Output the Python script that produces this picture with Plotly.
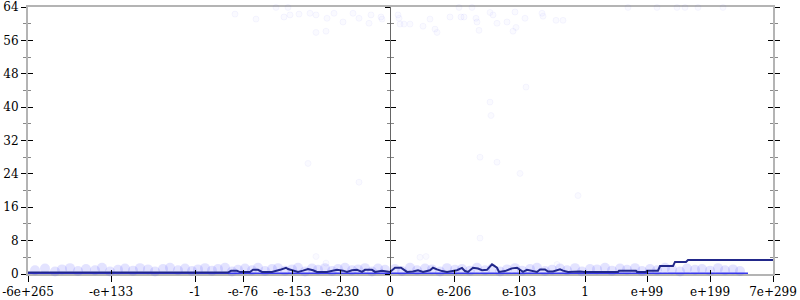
import plotly.graph_objects as go

# x positions are in "ordered float" units (0 .. 745), y is the measured value
tick_pos = [0, 83, 167, 215, 264, 312, 362, 426, 491, 557, 619, 682, 745]
tick_text = ["-6e+265", "-e+133", "-1", "-e-76", "-e-153", "-e-230", "0",
             "e-206", "e-103", "1", "e+99", "e+199", "7e+299"]

# summary line
line_x = [0, 200, 203, 209, 212, 222, 225, 230, 234, 244, 252, 258, 260, 265, 270, 275,
          280, 285, 289, 299, 309, 315, 319, 324, 329, 334, 337, 344, 347, 354, 359, 362,
          367, 373, 379, 385, 390, 395, 402, 405, 409, 414, 419, 424, 429, 434, 437, 440,
          445, 450, 454, 459, 464, 469, 471, 477, 484, 489, 492, 495, 499, 504, 509, 512,
          517, 520, 525, 532, 535, 540, 545, 552, 557, 572, 590, 591, 608, 609, 618, 619,
          630, 632, 645, 647, 658, 660, 745]
line_y = [0.35, 0.35, 0.75, 0.75, 0.45, 0.45, 1.0, 1.0, 0.5, 0.5, 1.0, 1.5, 1.2, 0.8, 0.5, 0.8,
          1.2, 0.9, 0.5, 0.5, 1.0, 0.8, 0.5, 0.9, 1.0, 0.5, 1.0, 1.0, 0.5, 0.8, 0.5, 0.5,
          1.5, 1.5, 0.5, 0.6, 0.9, 0.5, 0.9, 1.5, 1.1, 0.7, 0.5, 0.7, 0.9, 1.45, 0.7, 0.5,
          1.5, 1.3, 0.9, 1.0, 2.3, 1.5, 0.5, 0.7, 1.35, 1.5, 1.0, 0.5, 1.0, 0.8, 0.5, 1.1,
          1.1, 0.6, 0.6, 1.1, 0.8, 0.5, 0.6, 0.6, 0.5, 0.5, 0.5, 0.8, 0.8, 0.5, 0.5, 0.8,
          0.8, 1.9, 1.9, 2.9, 2.9, 3.35, 3.35]

# scattered individual samples (outliers)
pts_x = [207, 228, 248, 256, 260, 262, 271, 282, 288, 299, 306, 315, 325, 331, 341, 343, 353,
         370, 371, 354, 372, 376, 382, 395, 402, 407, 409, 422, 431, 433, 436, 444, 448, 449,
         462, 465, 469, 479, 485, 487, 488, 497, 498, 514, 515, 528, 535,
         600, 629, 649, 657, 670, 695, 280, 331, 288, 298, 392, 398, 529, 452, 462, 463, 452,
         469, 492, 550, 451, 288, 298]
pts_y = [62.3, 61.1, 63.9, 61.6, 63.9, 62.1, 62.3, 62.5, 62.1, 61.3, 62.5, 60.4, 62.5, 61.3,
         60.1, 62.1, 61.6, 62.1, 61.3, 61.1, 59.9, 59.9, 59.9, 59.4, 61.1, 58.7, 57.9, 61.6,
         63.9, 61.6, 61.6, 63.9, 61.3, 60.4, 62.7, 62.1, 60.1, 60.4, 58.2, 62.8, 59.1, 61.3,
         44.8, 62.5, 61.8, 60.8, 60.8,
         63.9, 63.9, 63.9, 63.9, 63.9, 63.9, 26.5, 22.0, 4.2, 2.6, 4.0, 4.2, 2.3, 8.6, 41.2,
         38.0, 28.0, 26.8, 24.1, 18.8, 58.4, 57.9, 58.2]

# dense low band of samples
band_x = [7, 17, 27, 34, 42, 50, 58, 67, 74, 82, 90, 97, 105, 112, 120, 127, 135, 142, 150,
          157, 164, 170, 177, 184, 190, 197, 204, 210, 217, 224, 230, 237, 244, 250, 257, 264,
          270, 277, 284, 290, 297, 304, 310, 317, 324, 330, 337, 344, 350, 357, 367, 374, 382,
          389, 397, 404, 412, 419, 427, 434, 442, 449, 457, 464, 472, 479, 487, 494, 502, 509,
          517, 524, 532, 539, 547, 554, 562, 569, 577, 584, 592, 599, 607, 614, 622, 629, 637,
          644, 652, 659, 667, 674, 682, 690, 697, 705, 712]
band_y = [0.9, 1.3, 0.6, 1.1, 1.4, 0.7, 1.2, 0.9, 1.5, 0.6, 1.0, 1.3, 0.8, 1.4, 1.1, 0.6, 1.2,
          1.5, 0.9, 1.3, 0.7, 1.1, 1.4, 0.8, 1.2, 1.5, 0.6, 1.0, 1.3, 0.9, 1.5, 0.7, 1.2, 1.4,
          0.8, 1.1, 1.5, 0.6, 1.3, 1.0, 1.4, 0.7, 1.2, 1.5, 0.9, 1.1, 1.4, 0.6, 1.3, 1.0,
          1.2, 0.7, 1.5, 0.9, 1.3, 1.1, 0.6, 1.4, 1.0, 1.2, 0.8, 1.5, 0.9, 1.3, 0.6, 1.1, 1.4,
          0.8, 1.2, 1.5, 0.7, 1.0, 1.3, 0.9, 1.4, 0.6, 1.2, 1.1, 1.5, 0.8, 1.3, 1.0, 1.4, 0.7,
          1.2, 0.9, 1.5, 1.1, 0.6, 1.3, 1.0, 1.2, 0.8, 1.4, 0.9, 1.1, 0.7]

# dense floor (zero-valued samples)
floor_x = [0, 720]
floor_y = [0, 0]

XMAX = 745
fig = go.Figure()

fig.add_trace(go.Scatter(x=band_x, y=band_y, mode="markers",
                         marker=dict(size=10, color="rgba(70,70,255,0.15)",
                                     line=dict(width=0)),
                         showlegend=False, cliponaxis=False))
fig.add_trace(go.Scatter(x=floor_x, y=floor_y, mode="lines",
                         line=dict(color="rgba(35,35,235,0.9)", width=3),
                         hoverinfo="skip", showlegend=False, cliponaxis=False))
fig.add_trace(go.Scatter(x=pts_x, y=pts_y, mode="markers",
                         marker=dict(size=6, color="rgba(90,90,255,0.03)",
                                     line=dict(width=1, color="rgba(90,90,240,0.05)")),
                         showlegend=False, cliponaxis=False))
fig.add_trace(go.Scatter(x=line_x, y=line_y, mode="lines",
                         line=dict(color="#22288a", width=2),
                         showlegend=False, cliponaxis=False))

font = dict(family="DejaVu Serif, serif", size=12, color="black")
yrng = [0, 64]
ycommon = dict(range=yrng, tickmode="linear", tick0=0, dtick=8, ticklen=5,
               tickcolor="black", tickwidth=1, showgrid=False, zeroline=False,
               fixedrange=True, automargin=False)

fig.update_layout(
    width=800, height=300,
    font=font,
    margin=dict(l=28, r=27, t=7, b=26, autoexpand=False),
    plot_bgcolor="white", paper_bgcolor="white",
    xaxis=dict(range=[0, XMAX], tickmode="array", tickvals=tick_pos, ticktext=tick_text,
               ticks="outside", ticklen=6, tickcolor="black", tickfont=font,
               showline=True, linecolor="#b4b4b4", linewidth=2, mirror=True,
               showgrid=False, zeroline=False, automargin=False, layer="below traces"),
    xaxis2=dict(range=[0, XMAX], overlaying="x", tickmode="array", tickvals=tick_pos,
                ticks="inside", ticklen=4, tickcolor="black", showticklabels=False,
                showline=False, showgrid=False, zeroline=False, automargin=False),
    yaxis=dict(**ycommon, ticks="outside", side="left", tickfont=font,
               showline=True, linecolor="#b4b4b4", linewidth=2, layer="below traces",
               minor=dict(ticks="outside", dtick=4, ticklen=3, tickcolor="#888")),
    yaxis2=dict(**ycommon, ticks="inside", overlaying="y", side="left",
                showticklabels=False, showline=False,
                minor=dict(ticks="inside", dtick=4, ticklen=3, tickcolor="#888")),
    yaxis3=dict(**ycommon, ticks="outside", overlaying="y", side="left", anchor="free",
                position=362 / XMAX, showticklabels=False, showline=True,
                linecolor="#666", linewidth=1,
                minor=dict(ticks="outside", dtick=4, ticklen=3, tickcolor="#888")),
    yaxis4=dict(**ycommon, ticks="inside", overlaying="y", side="left", anchor="free",
                position=362 / XMAX, showticklabels=False, showline=False,
                minor=dict(ticks="inside", dtick=4, ticklen=3, tickcolor="#888")),
    yaxis5=dict(**ycommon, ticks="outside", overlaying="y", side="right", anchor="x",
                showticklabels=False, showline=True, linecolor="#b4b4b4", linewidth=2,
                minor=dict(ticks="outside", dtick=4, ticklen=3, tickcolor="#888")),
    yaxis6=dict(**ycommon, ticks="inside", overlaying="y", side="right", anchor="x",
                showticklabels=False, showline=False,
                minor=dict(ticks="inside", dtick=4, ticklen=3, tickcolor="#888")),
)

# dummy invisible traces so overlay axes render
for ax in ["y2", "y3", "y4", "y5", "y6"]:
    fig.add_trace(go.Scatter(x=[None], y=[None], yaxis=ax, xaxis="x", showlegend=False,
                             hoverinfo="skip"))
fig.add_trace(go.Scatter(x=[None], y=[None], xaxis="x2", yaxis="y", showlegend=False,
                         hoverinfo="skip"))

fig.write_html("out.html")
